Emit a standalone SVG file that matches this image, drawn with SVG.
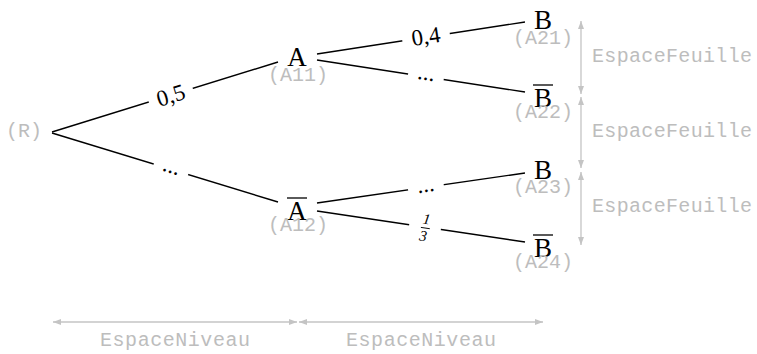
<svg xmlns="http://www.w3.org/2000/svg" width="757" height="354" viewBox="0 0 757 354">
<defs>
<style>
.edge{stroke:#000;stroke-width:1.4;fill:none}
.main{font-family:"Liberation Serif","DejaVu Serif",serif;font-size:27px;fill:#000;text-anchor:middle}
.lbl{font-family:"Liberation Serif","DejaVu Serif",serif;font-size:23px;fill:#000;text-anchor:middle}
.frac{font-family:"Liberation Serif","DejaVu Serif",serif;font-style:italic;font-size:15px;fill:#000;text-anchor:middle}
.mono{font-family:"Liberation Mono","DejaVu Sans Mono",monospace;font-size:20px;fill:#bdbdbd;text-anchor:middle}
.bar{stroke:#000;stroke-width:1.3}
.dim{stroke:#c4c4c4;stroke-width:1.3;fill:none}
.bg{fill:#fff}
</style>
<marker id="ah" viewBox="0 0 8 6" refX="8" refY="3" markerWidth="8" markerHeight="6" markerUnits="userSpaceOnUse" orient="auto-start-reverse">
<path d="M0,0 L8,3 L0,6 z" fill="#c4c4c4"/>
</marker>
</defs>
<rect width="757" height="354" fill="#fff"/>
<g id="connectors">
<line class="edge" x1="52" y1="132" x2="278" y2="62"/>
<line class="edge" x1="52" y1="133" x2="278" y2="202"/>
<line class="edge" x1="317" y1="54" x2="525" y2="22"/>
<line class="edge" x1="317" y1="60" x2="525" y2="92"/>
<line class="edge" x1="317" y1="203" x2="525" y2="173"/>
<line class="edge" x1="317" y1="211" x2="525" y2="242"/>
<g transform="translate(171,96) rotate(-17)">
<rect class="bg" x="-23" y="-12" width="46" height="24"/>
<text class="lbl" x="0" y="7">0,5</text>
</g>
<g transform="translate(171,169) rotate(17)">
<rect class="bg" x="-18" y="-7" width="36" height="14"/>
<text class="lbl" x="0" y="4">...</text>
</g>
<g transform="translate(426,37) rotate(-8.7)">
<rect class="bg" x="-24" y="-12" width="48" height="24"/>
<text class="lbl" x="0" y="7">0,4</text>
</g>
<g transform="translate(426,76) rotate(8.7)">
<rect class="bg" x="-18" y="-7" width="36" height="14"/>
<text class="lbl" x="0" y="4">...</text>
</g>
<g transform="translate(426,188) rotate(-8.2)">
<rect class="bg" x="-18" y="-7" width="36" height="14"/>
<text class="lbl" x="0" y="4">...</text>
</g>
<g transform="translate(425,227) rotate(8.5)">
<rect class="bg" x="-16" y="-17" width="32" height="34"/>
<text class="frac" x="0.5" y="-3">1</text>
<line x1="-4" y1="1" x2="5" y2="1" stroke="#000" stroke-width="0.9"/>
<text class="frac" x="-0.5" y="14">3</text>
</g>
</g>
<g id="R">
<text class="mono" x="24" y="137">(R)</text>
</g>
<g id="A11">
<text class="main" x="297" y="66">A</text>
<text class="mono" x="298" y="81">(A11)</text>
</g>
<g id="A12">
<line class="bar" x1="287" y1="198" x2="307" y2="198"/>
<text class="main" x="297" y="220">A</text>
<text class="mono" x="298" y="231">(A12)</text>
</g>
<g id="A21">
<text class="main" x="543" y="29">B</text>
<text class="mono" x="543" y="44">(A21)</text>
</g>
<g id="A22">
<line class="bar" x1="533" y1="85" x2="553" y2="85"/>
<text class="main" x="543" y="107">B</text>
<text class="mono" x="543" y="118">(A22)</text>
</g>
<g id="A23">
<text class="main" x="543" y="179">B</text>
<text class="mono" x="543" y="193">(A23)</text>
</g>
<g id="A24">
<line class="bar" x1="533" y1="235" x2="553" y2="235"/>
<text class="main" x="543" y="257">B</text>
<text class="mono" x="543" y="268">(A24)</text>
</g>
<g id="dimensions">
<line class="dim" x1="581" y1="21" x2="581" y2="94" marker-start="url(#ah)" marker-end="url(#ah)"/>
<line class="dim" x1="581" y1="97" x2="581" y2="168" marker-start="url(#ah)" marker-end="url(#ah)"/>
<line class="dim" x1="581" y1="172" x2="581" y2="245" marker-start="url(#ah)" marker-end="url(#ah)"/>
<line class="dim" x1="53" y1="322" x2="297" y2="322" marker-start="url(#ah)" marker-end="url(#ah)"/>
<line class="dim" x1="299" y1="322" x2="543" y2="322" marker-start="url(#ah)" marker-end="url(#ah)"/>
<text class="mono" x="672" y="62" textLength="160">EspaceFeuille</text>
<text class="mono" x="672" y="137" textLength="160">EspaceFeuille</text>
<text class="mono" x="672" y="212" textLength="160">EspaceFeuille</text>
<text class="mono" x="175" y="346" textLength="150">EspaceNiveau</text>
<text class="mono" x="421" y="346" textLength="150">EspaceNiveau</text>
</g>
</svg>
